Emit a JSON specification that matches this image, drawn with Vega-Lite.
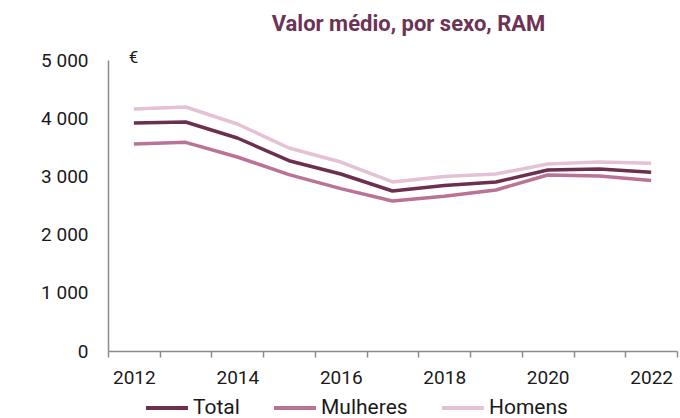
{
  "$schema": "https://vega.github.io/schema/vega-lite/v6.json",
  "width": 569,
  "height": 291,
  "autosize": {"type": "none"},
  "padding": {"left": 108, "top": 60, "right": 3, "bottom": 67},
  "background": "white",
  "config": {
    "font": "Roboto",
    "view": {"stroke": null},
    "title": {"font": "Roboto", "fontSize": 22, "fontWeight": "bold", "color": "#6E3254", "anchor": "middle", "dx": 16, "offset": 12}
  },
  "title": "Valor médio, por sexo, RAM",
  "data": {
    "values": [
      {"year": 2012, "series": "Total", "value": 3918},
      {"year": 2013, "series": "Total", "value": 3935},
      {"year": 2014, "series": "Total", "value": 3660},
      {"year": 2015, "series": "Total", "value": 3270},
      {"year": 2016, "series": "Total", "value": 3041},
      {"year": 2017, "series": "Total", "value": 2749},
      {"year": 2018, "series": "Total", "value": 2845},
      {"year": 2019, "series": "Total", "value": 2904},
      {"year": 2020, "series": "Total", "value": 3110},
      {"year": 2021, "series": "Total", "value": 3127},
      {"year": 2022, "series": "Total", "value": 3070},
      {"year": 2012, "series": "Mulheres", "value": 3557},
      {"year": 2013, "series": "Mulheres", "value": 3585},
      {"year": 2014, "series": "Mulheres", "value": 3333},
      {"year": 2015, "series": "Mulheres", "value": 3030},
      {"year": 2016, "series": "Mulheres", "value": 2790},
      {"year": 2017, "series": "Mulheres", "value": 2577},
      {"year": 2018, "series": "Mulheres", "value": 2660},
      {"year": 2019, "series": "Mulheres", "value": 2766},
      {"year": 2020, "series": "Mulheres", "value": 3024},
      {"year": 2021, "series": "Mulheres", "value": 3007},
      {"year": 2022, "series": "Mulheres", "value": 2930},
      {"year": 2012, "series": "Homens", "value": 4158},
      {"year": 2013, "series": "Homens", "value": 4192},
      {"year": 2014, "series": "Homens", "value": 3900},
      {"year": 2015, "series": "Homens", "value": 3488},
      {"year": 2016, "series": "Homens", "value": 3247},
      {"year": 2017, "series": "Homens", "value": 2904},
      {"year": 2018, "series": "Homens", "value": 3000},
      {"year": 2019, "series": "Homens", "value": 3041},
      {"year": 2020, "series": "Homens", "value": 3213},
      {"year": 2021, "series": "Homens", "value": 3247},
      {"year": 2022, "series": "Homens", "value": 3225}
    ]
  },
  "mark": {"type": "line", "strokeWidth": 3.5, "strokeJoin": "round"},
  "encoding": {
    "x": {
      "field": "year",
      "type": "ordinal",
      "scale": {"type": "band", "paddingInner": 0, "paddingOuter": 0},
      "axis": {
        "title": null,
        "labelAngle": 0,
        "labelExpr": "datum.value % 2 == 0 ? datum.label : ''",
        "tickBand": "extent",
        "ticks": true,
        "tickSize": 6,
        "tickColor": "#8c8c8c",
        "tickWidth": 1.5,
        "domainColor": "#8c8c8c",
        "domainWidth": 1.5,
        "labelFont": "Roboto",
        "labelFontSize": 19,
        "labelColor": "#1a1a1a",
        "labelPadding": 11,
        "grid": false
      }
    },
    "y": {
      "field": "value",
      "type": "quantitative",
      "scale": {"domain": [0, 5000], "nice": false},
      "axis": {
        "title": "€",
        "titleAngle": 0,
        "titleX": 25,
        "titleY": 2,
        "titleAlign": "center",
        "titleBaseline": "alphabetic",
        "titleFont": "Roboto",
        "titleFontSize": 17,
        "titleFontWeight": "normal",
        "titleColor": "#1a1a1a",
        "values": [0, 1000, 2000, 3000, 4000, 5000],
        "labelExpr": "replace(format(datum.value, ','), ',', ' ')",
        "ticks": false,
        "grid": false,
        "domainColor": "#8c8c8c",
        "domainWidth": 1.5,
        "labelFont": "Roboto",
        "labelFontSize": 19,
        "labelColor": "#1a1a1a",
        "labelPadding": 20
      }
    },
    "color": {
      "field": "series",
      "type": "nominal",
      "scale": {"domain": ["Total", "Mulheres", "Homens"], "range": ["#6D2F4F", "#BA7296", "#E4C1D4"]},
      "legend": {
        "title": null,
        "orient": "none",
        "direction": "horizontal",
        "legendX": 36,
        "legendY": 325,
        "symbolType": "stroke",
        "symbolSize": 1764,
        "symbolStrokeWidth": 4,
        "labelFont": "Roboto",
        "labelFontSize": 21,
        "labelColor": "#1a1a1a",
        "labelOffset": 3,
        "columnPadding": 26,
        "padding": 0
      }
    }
  }
}
